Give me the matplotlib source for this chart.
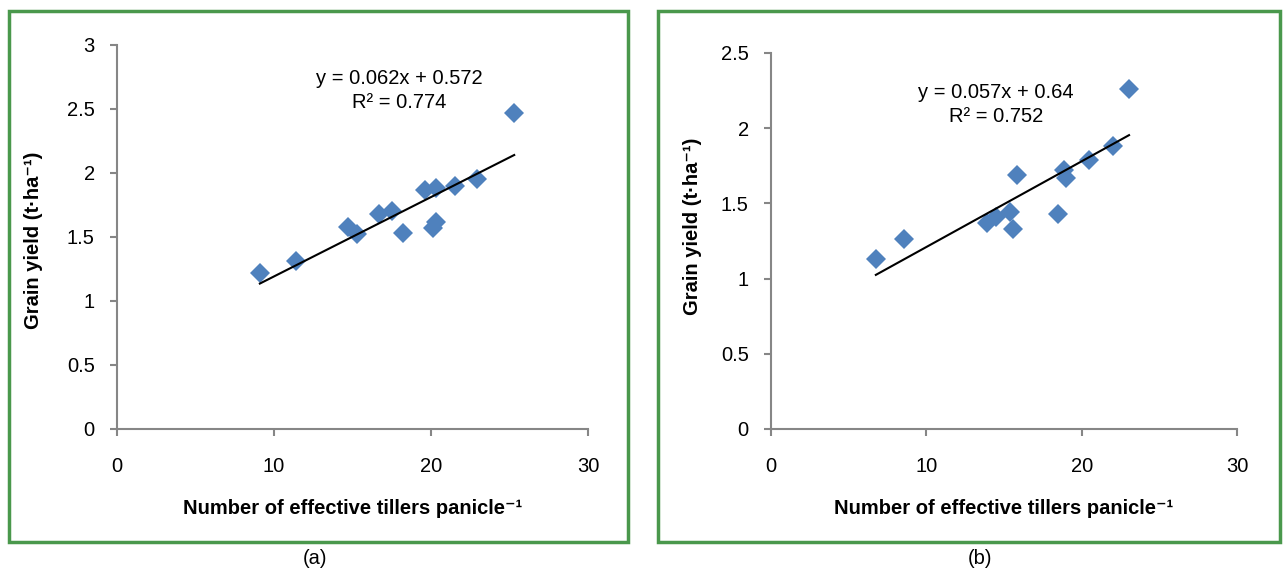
import matplotlib
matplotlib.use("Agg")
import matplotlib.pyplot as plt
from matplotlib.patches import Rectangle

plt.rcParams['font.family'] = ['Liberation Sans', 'DejaVu Sans']

# panel (a) data
tillers_a = [9.1, 11.4, 14.7, 15.3, 16.7, 17.5, 18.2, 19.6, 20.3, 20.1, 20.3, 21.5, 22.9, 25.3]
yield_a = [1.22, 1.31, 1.58, 1.52, 1.68, 1.70, 1.53, 1.87, 1.88, 1.57, 1.62, 1.90, 1.95, 2.47]
slope_a, icept_a, r2_a = 0.062, 0.572, 0.774

# panel (b) data
tillers_b = [6.75, 8.55, 13.9, 14.5, 15.4, 15.6, 15.85, 18.45, 18.85, 19.0, 20.45, 22.0, 23.05]
yield_b = [1.13, 1.26, 1.37, 1.41, 1.44, 1.33, 1.69, 1.43, 1.72, 1.67, 1.79, 1.88, 2.26]
slope_b, icept_b, r2_b = 0.057, 0.64, 0.752

W, H = 1283, 573
fig = plt.figure(figsize=(W / 100, H / 100), dpi=100)

green = '#4a984c'
grey = '#868686'
blue = '#4f81bd'
fs = 14.5

# green frames round each panel
for x0, x1 in [(9, 628), (658, 1280)]:
    fig.patches.append(Rectangle((x0 / W, 1 - 542 / H), (x1 - x0) / W, (542 - 11) / H,
                                 transform=fig.transFigure, fill=False,
                                 edgecolor=green, linewidth=2.5))


def panel(rect, xs, ys, slope, icept, r2, ymax, ystep, eqpos, r2pos, tag, tagx, ylab_xy):
    ax = fig.add_axes(rect)
    ax.plot(xs, ys, linestyle='none', marker='D', markersize=10,
            color=blue, markeredgewidth=0, zorder=2)
    lx = [min(xs), max(xs)]
    ax.plot(lx, [slope * v + icept for v in lx], color='black', linewidth=1.5, zorder=3)
    ax.set_xlim(0, 30)
    ax.set_ylim(0, ymax)
    ax.set_xticks([0, 10, 20, 30])
    yt = [i * ystep for i in range(int(round(ymax / ystep)) + 1)]
    ax.set_yticks(yt)
    ax.set_yticklabels(['%g' % v for v in yt])
    for s in ['top', 'right']:
        ax.spines[s].set_visible(False)
    for s in ['left', 'bottom']:
        ax.spines[s].set_color(grey)
        ax.spines[s].set_linewidth(1.5)
    ax.tick_params(colors=grey, labelcolor='black', labelsize=fs, length=5, width=1.5)
    ax.tick_params(axis='y', pad=11)
    ax.tick_params(axis='x', pad=15)
    ax.set_xlabel('Number of effective tillers panicle⁻¹', fontsize=fs, fontweight='bold', labelpad=17)
    ax.set_ylabel('Grain yield (t·ha⁻¹)', fontsize=fs, fontweight='bold')
    ax.yaxis.set_label_coords(ylab_xy[0] / W, 1 - ylab_xy[1] / H, transform=fig.transFigure)
    ax.yaxis.label.set_verticalalignment('center')
    ax.text(eqpos[0], eqpos[1], 'y = %gx + %g' % (slope, icept), ha='center', va='center', fontsize=fs)
    ax.text(r2pos[0], r2pos[1], 'R² = %g' % r2, ha='center', va='center', fontsize=fs)
    fig.text(tagx / W, 1 - 558 / H, tag, ha='center', va='center', fontsize=fs)
    return ax


panel([117 / W, 1 - 429 / H, 471 / W, 384 / H], tillers_a, yield_a, slope_a, icept_a, r2_a,
      3, 0.5, (18.0, 2.74), (18.0, 2.55), '(a)', 315, (34, 240))
panel([771 / W, 1 - 429 / H, 466 / W, 376 / H], tillers_b, yield_b, slope_b, icept_b, r2_b,
      2.5, 0.5, (14.5, 2.24), (14.5, 2.08), '(b)', 980, (693, 226))

fig.savefig('out.png', dpi=100)
